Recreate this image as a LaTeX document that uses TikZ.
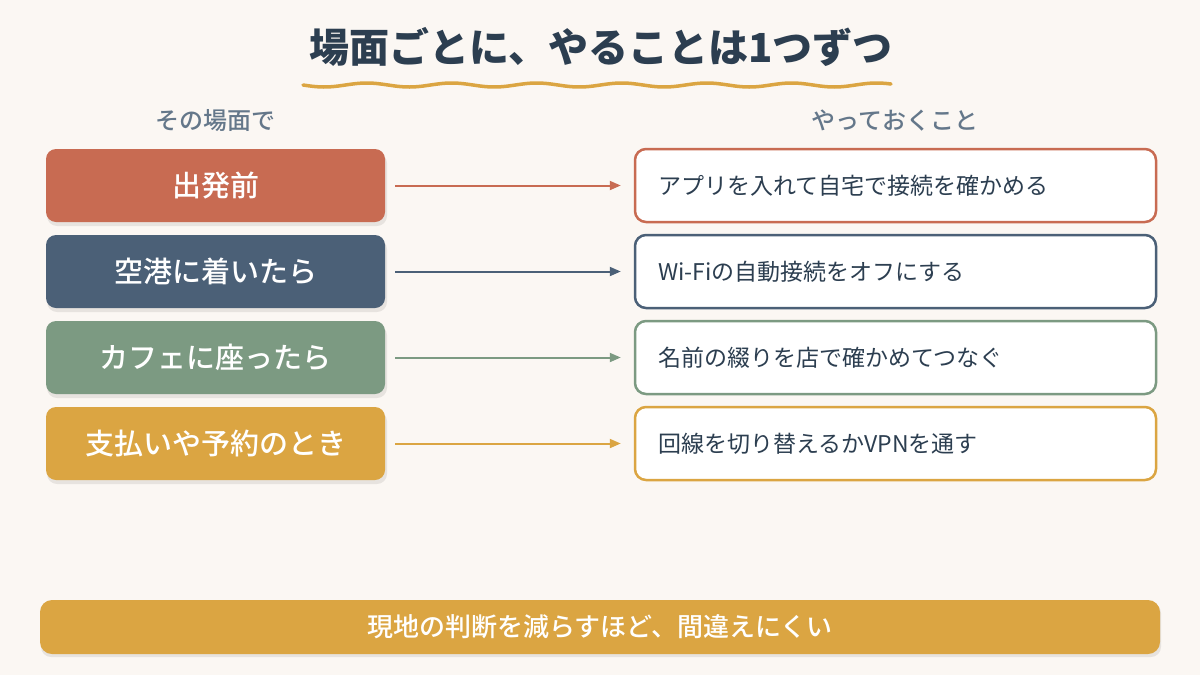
\documentclass[tikz,border=0pt]{standalone}
\usepackage{fontspec}
\setmainfont{Noto Sans CJK JP}
\newfontfamily\jpmed{Noto Sans CJK JP Medium}
\usetikzlibrary{arrows.meta}
\definecolor{bgc}{HTML}{FBF7F3}
\definecolor{cred}{HTML}{C86B52}
\definecolor{cnavy}{HTML}{4B6077}
\definecolor{cgreen}{HTML}{7C9A82}
\definecolor{cgold}{HTML}{DBA542}
\definecolor{ctitle}{HTML}{2C3E50}
\definecolor{chead}{HTML}{64778A}
\tikzset{
  leftbox/.style={rounded corners=10pt, minimum width=339pt, minimum height=73pt, inner sep=0pt,
    text=white, font=\fontsize{29}{34}\jpmed},
  rightbox/.style={rounded corners=11pt, fill=white, line width=2.5pt, minimum height=73pt,
    text width=475pt, inner xsep=23pt, inner ysep=0pt, align=left, text=ctitle,
    font=\fontsize{23}{27}\selectfont},
  shadowbox/.style={rounded corners=10pt, fill=black, opacity=0.08},
  conn/.style={line width=2pt, -{Triangle[length=11pt,width=9pt]}, shorten <=10pt, shorten >=13pt},
  head/.style={text=chead, font=\fontsize{24}{28}\jpmed},
}
\begin{document}
\begin{tikzpicture}[x=1pt,y=-1pt]
\useasboundingbox (0,0) rectangle (1200,675);
\fill[bgc] (0,0) rectangle (1200,675);
% title
\node[text=ctitle, font=\fontsize{40}{48}\selectfont\bfseries] (title) at (601,47) {場面ごとに、やることは1つずつ};
\draw[cgold, line width=3.5pt, line cap=round] plot[domain=303:891, samples=200, smooth] (\x, {85 + 2*sin((\x-303)/85*360)});
% headers
\node[head] (hl) at (215,121) {その場面で};
\node[head] (hr) at (895,121) {やっておくこと};
% shadows
\foreach \y in {188,274,360,446} {
  \fill[shadowbox] (47,\y-35) rectangle (387,\y+38);
}
\fill[shadowbox] (41,603) rectangle (1161,657);
% left boxes
\node[leftbox, fill=cred] (l1) at (215.5,185.5) {出発前};
\node[leftbox, fill=cnavy] (l2) at (215.5,271.5) {空港に着いたら};
\node[leftbox, fill=cgreen] (l3) at (215.5,357.5) {カフェに座ったら};
\node[leftbox, fill=cgold] (l4) at (215.5,443.5) {支払いや予約のとき};
% right boxes
\node[rightbox, draw=cred] (r1) at (895.5,185.5) {アプリを入れて自宅で接続を確かめる};
\node[rightbox, draw=cnavy] (r2) at (895.5,271.5) {Wi-Fiの自動接続をオフにする};
\node[rightbox, draw=cgreen] (r3) at (895.5,357.5) {名前の綴りを店で確かめてつなぐ};
\node[rightbox, draw=cgold] (r4) at (895.5,443.5) {回線を切り替えるかVPNを通す};
% connectors
\draw[conn, cred] (l1) -- (r1);
\draw[conn, cnavy] (l2) -- (r2);
\draw[conn, cgreen] (l3) -- (r3);
\draw[conn, cgold] (l4) -- (r4);
% banner
\node[rounded corners=12pt, fill=cgold, minimum width=1120pt, minimum height=54pt, inner sep=0pt,
  text=white, font=\fontsize{26}{30}\jpmed] (banner) at (600,627) {現地の判断を減らすほど、間違えにくい};
\end{tikzpicture}
\end{document}
